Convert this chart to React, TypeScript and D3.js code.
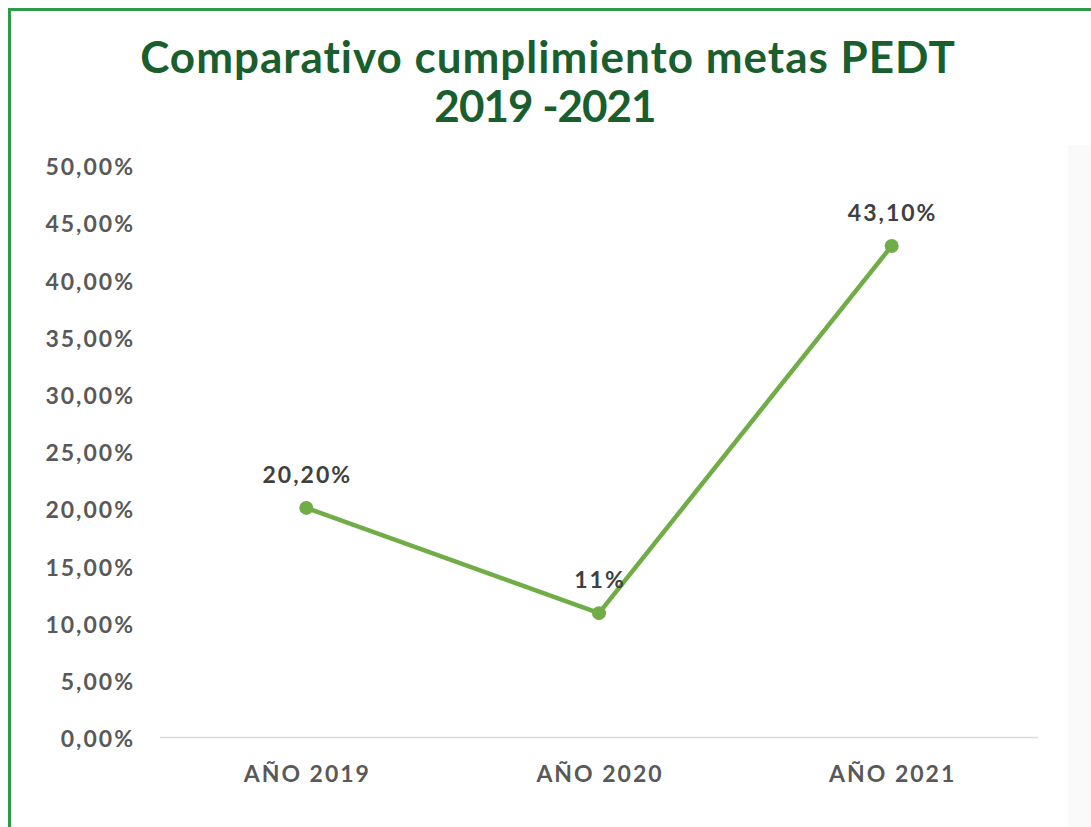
import React, { useEffect, useRef } from 'react';
import * as d3 from 'd3';

const categories = ['AÑO 2019', 'AÑO 2020', 'AÑO 2021'];
const values = [20.2, 11, 43.1];
const valueLabels = ['20,20%', '11%', '43,10%'];
const yTicks = [0, 5, 10, 15, 20, 25, 30, 35, 40, 45, 50];
const titleLines = ['Comparativo cumplimiento metas PEDT', '2019 -2021'];

const W = 1091;
const H = 827;
const FONT = 'Lato, "Noto Sans", sans-serif';

const App = () => {
    const svgRef = useRef<SVGSVGElement>(null);

    useEffect(() => {
        const svg = d3.select(svgRef.current);
        svg.selectAll('*').remove();

        const margin = { top: 167, right: 53, bottom: 88, left: 160 };
        const x0 = margin.left;
        const x1 = W - margin.right;
        const y0 = H - margin.bottom;

        // fondo y borde
        svg.append('rect').attr('width', W).attr('height', H).attr('fill', '#ffffff');
        svg.append('rect').attr('x', 1068).attr('y', 145).attr('width', 23).attr('height', H - 145).attr('fill', '#fafafa');
        svg.append('path')
            .attr('d', `M9.5,${H} L9.5,9.5 L${W},9.5`)
            .attr('fill', 'none')
            .attr('stroke', '#2e9b4a')
            .attr('stroke-width', 3);

        // titulo
        svg.selectAll('.title')
            .data(titleLines)
            .enter().append('text')
            .attr('class', 'title')
            .attr('x', (d, i) => i === 0 ? 548 : 545)
            .attr('y', (d, i) => 73 + i * 49)
            .attr('text-anchor', 'middle')
            .style('font-family', FONT)
            .style('font-weight', 'bold')
            .style('font-size', '44px')
            .style('letter-spacing', (d, i) => i === 0 ? '1px' : '-1px')
            .style('fill', '#1a5e2e')
            .text(d => d);

        // escalas
        const x = d3.scaleBand().domain(categories).range([x0, x1]);
        const y = d3.scaleLinear().domain([0, 50]).range([y0, margin.top]);

        // eje y
        svg.selectAll('.ytick')
            .data(yTicks)
            .enter().append('text')
            .attr('class', 'ytick')
            .attr('x', 135)
            .attr('y', d => y(d))
            .attr('dy', '0.36em')
            .attr('text-anchor', 'end')
            .style('font-family', FONT)
            .style('font-weight', 'bold')
            .style('font-size', '23px')
            .style('letter-spacing', '2px')
            .style('fill', '#595959')
            .text(d => d3.format('.2f')(d).replace('.', ',') + '%');

        // linea base
        svg.append('line')
            .attr('x1', x0).attr('x2', x1)
            .attr('y1', y0 - 1.5).attr('y2', y0 - 1.5)
            .attr('stroke', '#d9d9d9')
            .attr('stroke-width', 1.5);

        // eje x
        svg.selectAll('.xtick')
            .data(categories)
            .enter().append('text')
            .attr('class', 'xtick')
            .attr('x', d => x(d)! + x.bandwidth() / 2 + 1)
            .attr('y', y0 + 35)
            .attr('dy', '0.36em')
            .attr('text-anchor', 'middle')
            .style('font-family', FONT)
            .style('font-weight', 'bold')
            .style('font-size', '23px')
            .style('letter-spacing', '2px')
            .style('fill', '#595959')
            .text(d => d);

        const pts = categories.map((c, i) => [x(c)! + x.bandwidth() / 2, y(values[i])] as [number, number]);

        // linea
        svg.append('path')
            .datum(pts)
            .attr('d', d3.line())
            .attr('fill', 'none')
            .attr('stroke', '#70ad47')
            .attr('stroke-width', 4.5)
            .attr('stroke-linejoin', 'round');

        svg.selectAll('.dot')
            .data(pts)
            .enter().append('circle')
            .attr('class', 'dot')
            .attr('cx', d => d[0])
            .attr('cy', d => d[1])
            .attr('r', 7)
            .attr('fill', '#70ad47');

        // etiquetas de datos
        svg.selectAll('.lbl')
            .data(pts)
            .enter().append('text')
            .attr('class', 'lbl')
            .attr('x', d => d[0] + 1)
            .attr('y', d => d[1] - 33)
            .attr('dy', '0.36em')
            .attr('text-anchor', 'middle')
            .style('font-family', FONT)
            .style('font-weight', 'bold')
            .style('font-size', '23px')
            .style('letter-spacing', '2px')
            .style('fill', '#404040')
            .text((d, i) => valueLabels[i]);
    }, []);

    return <svg ref={svgRef} width={W} height={H} style={{ position: 'absolute', left: 0, top: 0 }}></svg>;
};

export default App;
